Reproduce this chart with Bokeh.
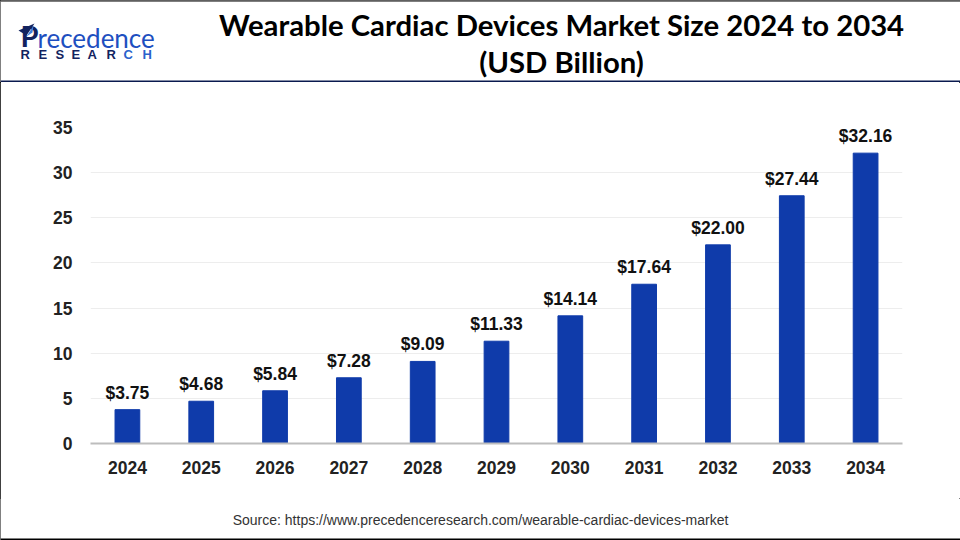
from bokeh.plotting import figure
from bokeh.core.properties import value
from bokeh.layouts import column
from bokeh.models import ColumnDataSource, LabelSet, Label, BoxAnnotation, PolyAnnotation, FixedTicker, Range1d, FactorRange
from bokeh.embed import file_html
from bokeh.resources import INLINE

years = ["2024","2025","2026","2027","2028","2029","2030","2031","2032","2033","2034"]
values = [3.75,4.68,5.84,7.28,9.09,11.33,14.14,17.64,22.00,27.44,32.16]
value_labels = ["$3.75","$4.68","$5.84","$7.28","$9.09","$11.33","$14.14","$17.64","$22.00","$27.44","$32.16"]
y_ticks = [0,5,10,15,20,25,30,35]
title_lines = ["Wearable Cardiac Devices Market Size 2024 to 2034","(USD Billion)"]
source_text = "Source: https://www.precedenceresearch.com/wearable-cardiac-devices-market"
logo_letters = ["R","E","S","E","A","R","C","H"]

FONT = "Liberation Sans"
W, H = 960, 540
HEAD, FOOT = 82, 42
L, R, T, B = 90, 902, 127, 443   # plot frame edges within the picture

p = figure(width=W, height=H-HEAD-FOOT, output_backend="svg", toolbar_location=None,
           x_range=FactorRange(*years, range_padding=0), y_range=Range1d(0,35), frame_align=False,
           min_border_left=L, min_border_right=W-R, min_border_top=T-HEAD, min_border_bottom=H-FOOT-B)
p.outline_line_color=None
p.background_fill_color="white"
p.border_fill_color="white"

src = ColumnDataSource(dict(year=years, value=values, label=value_labels))
p.vbar(x="year", top="value", width=0.335, bottom=0, source=src, color="#0F3BAA")
p.add_layout(LabelSet(x="year", y="value", text="label", source=src, y_offset=7,
    text_align="center", text_baseline="bottom", text_font=value(FONT),
    text_font_style="bold", text_font_size="17.5px", text_color="#111111"))

p.xgrid.visible=False
p.ygrid.grid_line_color="#EDEDED"
p.ygrid.grid_line_width=1
p.yaxis.ticker=FixedTicker(ticks=y_ticks)
p.yaxis.axis_line_color=None
p.yaxis.major_tick_line_color=None
p.yaxis.minor_tick_line_color=None
p.yaxis.major_label_standoff=12
p.xaxis.axis_line_color="#BDBDBD"
p.xaxis.axis_line_width=2
p.xaxis.major_tick_line_color=None
p.xaxis.minor_tick_line_color=None
p.xaxis.major_label_standoff=11
for ax in (p.xaxis[0], p.yaxis[0]):
    ax.major_label_text_font=FONT
    ax.major_label_text_font_style="bold"
    ax.major_label_text_font_size="17.5px"
    ax.major_label_text_color="#222222"

def strip(height):
    f = figure(width=W, height=height, output_backend="svg", toolbar_location=None, frame_align=False,
               x_range=Range1d(0,1), y_range=Range1d(0,1), x_axis_location=None, y_axis_location=None,
               min_border=0, min_border_left=0, min_border_right=0, min_border_top=0, min_border_bottom=0)
    f.outline_line_color=None
    f.grid.visible=False
    f.background_fill_color="white"
    f.border_fill_color="white"
    return f

def text(f,h,t,x,y,size,color="#000000",style="bold",align="center",font=FONT):
    f.add_layout(Label(x=x,y=h-y,x_units="screen",y_units="screen",text=t,text_font=font,
        text_font_size=size,text_font_style=style,text_color=color,text_align=align,text_baseline="middle"))

def box(f,h,x0,x1,y0,y1,color):
    f.add_layout(BoxAnnotation(left=x0,right=x1,top=h-y0,bottom=h-y1,left_units="screen",right_units="screen",
        top_units="screen",bottom_units="screen",fill_color=color,fill_alpha=1,line_color=None))

def poly(f,h,pts,color):
    f.add_layout(PolyAnnotation(xs=[a for a,_ in pts],ys=[h-b for _,b in pts],xs_units="screen",ys_units="screen",
        fill_color=color,fill_alpha=1,line_color=None))

head = strip(HEAD)
text(head,HEAD,title_lines[0],561,24,"29.3px",font="Lato")
text(head,HEAD,title_lines[1],561,61,"29.3px",font="Lato")
text(head,HEAD,"P",20,35,"29px",color="#12235F",align="left",font="Lato")
text(head,HEAD,"recedence",37,37,"26px",color="#1E4FC0",style="normal",align="left",font="Lato")
for ch,x,c in zip(logo_letters,[20,38,55,71,87,106,123,142],["#12235F"]*6+["#2A62CC"]*2):
    text(head,HEAD,ch,x,54,"13px",color=c,align="left")
poly(head,HEAD,[(18,30),(34,23),(26,35)],"#12235F")
poly(head,HEAD,[(26,36),(33,25),(32,32)],"#3F7FDC")
box(head,HEAD,0,W,80,82,"#0A1A4F")
box(head,HEAD,0,W,0,1,"#000000")

foot = strip(FOOT)
text(foot,FOOT,source_text,480,21,"14px",color="#333333",style="normal")
box(foot,FOOT,0,W,40,42,"#000000")

page = column(head,p,foot,styles={"outline":"1px solid #000000","outline-offset":"-1px"})
open("out.html","w").write(file_html(page, INLINE))
